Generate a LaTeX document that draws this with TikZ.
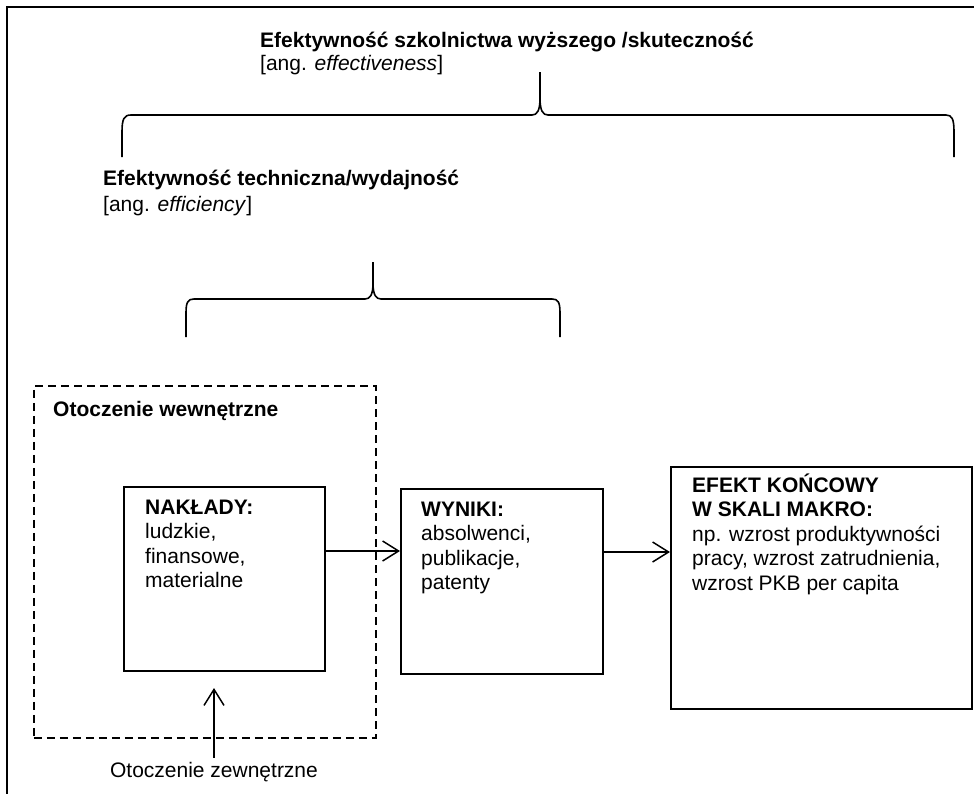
\documentclass[tikz,border=0pt]{standalone}
\usepackage{fontspec}
\setmainfont{Liberation Sans}
\usetikzlibrary{arrows.meta}
\begin{document}
\begin{tikzpicture}[x=1pt,y=-1pt,
  every node/.style={inner sep=0pt, font=\fontsize{21}{24.5}\selectfont},
  box/.style={draw, line width=1.5pt, anchor=north west, inner sep=0pt},
  dashbox/.style={draw, line width=1.5pt, anchor=north west, inner sep=0pt, dash pattern=on 8pt off 5pt},
  brace/.style={line width=1.6pt, line join=round, line cap=butt},
  arr/.style={line width=1.5pt, -{Straight Barb[length=16pt,width=20pt]}},
  txt/.style={anchor=base west}]
\useasboundingbox (0,0) rectangle (974,793);
% frame
\draw[line width=1.6pt] (980,7) -- (7,7) -- (7,800);
% titles
\node[txt] (t1) at (260,47) {\textbf{Efektywność szkolnictwa wyższego /skuteczność}};
\node[txt] (t1b) at (260,70) {[ang. \textit{effectiveness}]};
\node[txt] (t2) at (103,185) {\textbf{Efektywność techniczna/wydajność}};
\node[txt] (t2b) at (103,211) {[ang. \textit{efficiency}]};
% top brace
\draw[brace] (122,157) -- (122,132) .. controls (122,119) and (124,115) .. (131,115)
  -- (532,115) .. controls (537,115) and (540,111) .. (540,98) -- (540,72);
\draw[brace] (540,98) .. controls (540,111) and (543,115) .. (548,115)
  -- (946,115) .. controls (952,115) and (954,119) .. (954,132) -- (954,157);
% lower brace
\draw[brace] (186,337) -- (186,313) .. controls (186,302) and (188,299) .. (194,299)
  -- (365,299) .. controls (370,299) and (373,295) .. (373,283) -- (373,262);
\draw[brace] (373,283) .. controls (373,295) and (376,299) .. (381,299)
  -- (552,299) .. controls (558,299) and (560,302) .. (560,313) -- (560,337);
% dashed internal environment
\node[dashbox, minimum width=342pt, minimum height=352pt] (DASH) at (33,385) {};
\node[txt] (tDASH) at (53,416) {\textbf{Otoczenie wewnętrzne}};
% boxes
\node[box, minimum width=201pt, minimum height=184pt] (NAK) at (123,486) {};
\node[box, minimum width=202pt, minimum height=185pt] (WYN) at (400,488) {};
\node[box, minimum width=301pt, minimum height=242pt] (EFE) at (670,466) {};
\node[txt] (tNAK) at (145,514) {\begin{tabular}[t]{@{}l@{}}\textbf{NAKŁADY:}\\ ludzkie,\\ finansowe,\\ materialne\end{tabular}};
\node[txt] (tWYN) at (421,516) {\begin{tabular}[t]{@{}l@{}}\textbf{WYNIKI:}\\ absolwenci,\\ publikacje,\\ patenty\end{tabular}};
\node[txt] (tEFE) at (692,492) {\begin{tabular}[t]{@{}l@{}}\textbf{EFEKT KOŃCOWY}\\ \textbf{W SKALI MAKRO:}\\ np. wzrost produktywności\\ pracy, wzrost zatrudnienia,\\ wzrost PKB per capita\end{tabular}};
% arrows
\draw[arr] (NAK.east |- 0,551) -- (WYN.west |- 0,551);
\draw[arr] (WYN.east |- 0,552) -- (EFE.west |- 0,552);
% external environment
\node[anchor=base] (OZ) at (214,777) {Otoczenie zewnętrzne};
\coordinate (zt) at (OZ.north |- 0,688);
\draw[arr] ([yshift=4pt]OZ.north) -- (zt);
\end{tikzpicture}
\end{document}
